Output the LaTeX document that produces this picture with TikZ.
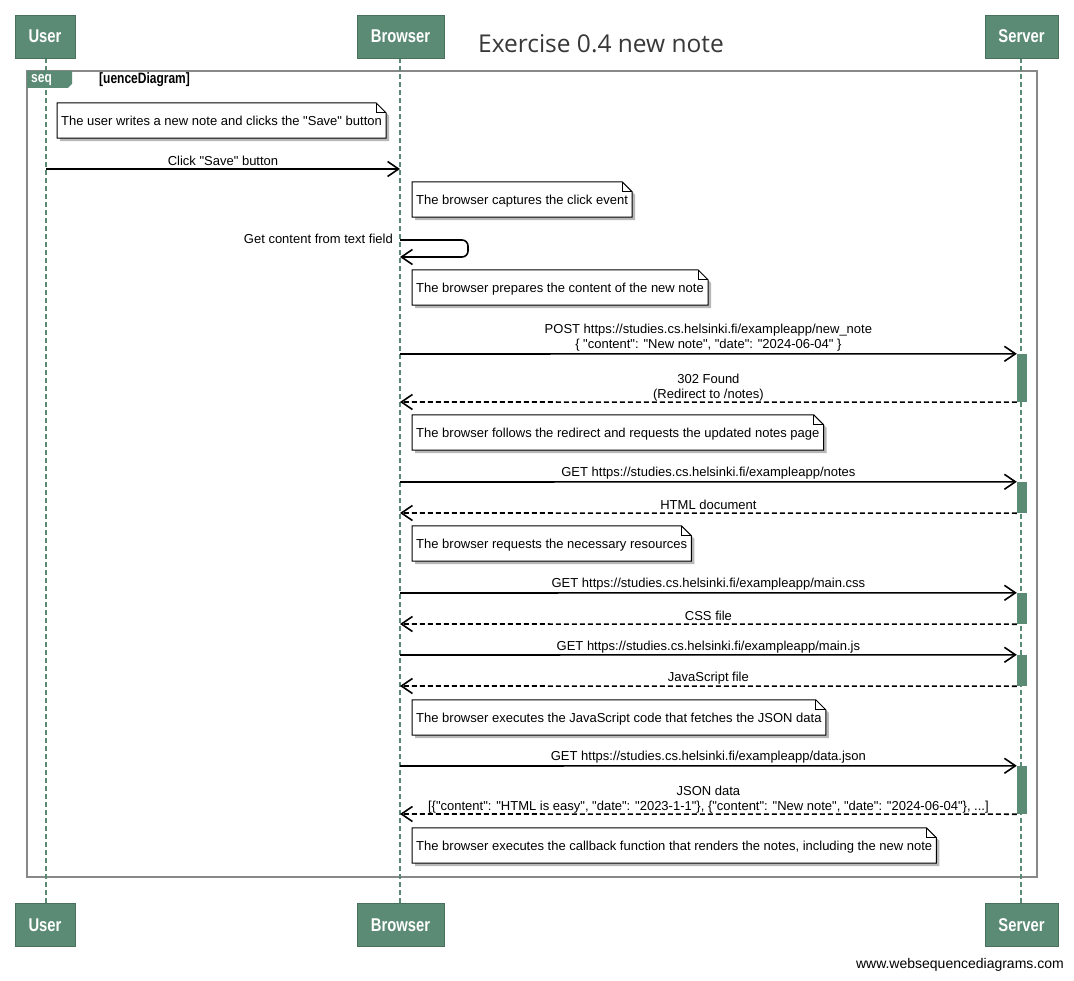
\documentclass[tikz,border=0pt]{standalone}
\usepackage{fontspec}
\newfontfamily\mainf{Liberation Sans}
\newfontfamily\hdrfont[FakeStretch=0.8]{Liberation Sans}
\newfontfamily\titlefont{Open Sans}
\usetikzlibrary{arrows.meta}
\definecolor{wsdgreen}{HTML}{5B8B74}
\definecolor{framegray}{HTML}{888888}
\definecolor{titlegray}{HTML}{383838}
\pgfdeclarelayer{background}
\pgfsetlayers{background,main}
\newcommand\notedraw[1]{%
  \fill[black!28] ([shift={(3,3)}]#1.north west) -- ([shift={(-7,3)}]#1.north east) -- ([shift={(3,13)}]#1.north east) -- ([shift={(3,3)}]#1.south east) -- ([shift={(3,3)}]#1.south west) -- cycle;
  \draw[fill=white, line width=1pt] (#1.north west) -- ([shift={(-10,0)}]#1.north east) -- ([shift={(0,10)}]#1.north east) -- (#1.south east) -- (#1.south west) -- cycle;
  \draw[line width=0.8pt] ([shift={(-10,0)}]#1.north east) -- ([shift={(-10,10)}]#1.north east) -- ([shift={(0,10)}]#1.north east);
}
\begin{document}
\begin{tikzpicture}[x=1pt,y=-1pt,
  actor/.style={fill=wsdgreen, draw=wsdgreen!80!black, line width=0.5pt, text=white, font=\hdrfont\bfseries\fontsize{18.5}{20}\selectfont, minimum height=43pt, inner sep=0pt},
  lifeline/.style={draw=wsdgreen, line width=2.4pt, dash pattern=on 5pt off 3pt},
  notebox/.style={anchor=west, minimum height=35pt, inner xsep=4pt, inner ysep=0pt, text height=10.5pt, text depth=0.5pt, font=\mainf\fontsize{13}{15}\selectfont, text=black},
  msg/.style={draw=black, line width=1.6pt, -{Straight Barb[length=11pt,width=15pt,line width=1.6pt]}},
  reply/.style={msg, dash pattern=on 5pt off 3pt},
  lbl/.style={font=\mainf\fontsize{13}{15}\selectfont, align=center, inner sep=2pt, text=black},
  act/.style={fill=wsdgreen, minimum width=10pt, inner sep=0pt}]
\useasboundingbox (0,0) rectangle (1074,981);
\begin{pgfonlayer}{background}
\fill[white] (0,0) rectangle (1074,981);
\end{pgfonlayer}

% title
\node[font=\titlefont\fontsize{24.5}{28}\selectfont, text=titlegray] (title) at (601,44) {Exercise 0.4 new note};

% actors
\node[actor, minimum width=60pt] (userT) at (45,36.5) {User};
\node[actor, minimum width=87pt] (browserT) at (400.5,36.5) {Browser};
\node[actor, minimum width=73pt] (serverT) at (1021.5,36.5) {Server};
\node[actor, minimum width=60pt] (userB) at (45,925) {User};
\node[actor, minimum width=87pt] (browserB) at (400.5,925) {Browser};
\node[actor, minimum width=73pt] (serverB) at (1021.5,925) {Server};

% frame
\begin{pgfonlayer}{background}
\draw[framegray, line width=2pt] (27,71) rectangle (1037,877);
\fill[wsdgreen] (27,71) -- (72,71) -- (72,84) -- (68,88) -- (27,88) -- cycle;
\end{pgfonlayer}
\node[font=\hdrfont\bfseries\fontsize{15}{17}\selectfont, text=white, anchor=west, inner sep=0pt] (seqlbl) at (31,80) {seq};
\node[font=\hdrfont\bfseries\fontsize{15}{17}\selectfont, text=black, anchor=west, inner sep=0pt] (seqname) at (99,80) {[uenceDiagram]};

% lifelines
\begin{pgfonlayer}{background}
\draw[lifeline] (userT.south -| 46,0) -- (userB.north -| 46,0);
\draw[lifeline] (browserT.south -| 400,0) -- (browserB.north -| 400,0);
\draw[lifeline] (serverT.south -| 1021,0) -- (serverB.north -| 1021,0);
\end{pgfonlayer}

% notes
\node[notebox] (n1) at (57,120.5) {The user writes a new note and clicks the "Save" button};
\node[notebox] (n2) at (412,199.5) {The browser captures the click event};
\node[notebox] (n3) at (412,287.5) {The browser prepares the content of the new note};
\node[notebox] (n4) at (412,432.5) {The browser follows the redirect and requests the updated notes page};
\node[notebox] (n5) at (412,543.5) {The browser requests the necessary resources};
\node[notebox] (n6) at (412,717.5) {The browser executes the JavaScript code that fetches the JSON data};
\node[notebox] (n7) at (412,845.5) {The browser executes the callback function that renders the notes, including the new note};
\begin{pgfonlayer}{background}
\notedraw{n1}\notedraw{n2}\notedraw{n3}\notedraw{n4}\notedraw{n5}\notedraw{n6}\notedraw{n7}
\end{pgfonlayer}

% activation bars
\node[act, minimum height=48pt] (a1) at (1022,378) {};
\node[act, minimum height=31pt] (a2) at (1022,497.5) {};
\node[act, minimum height=31pt] (a3) at (1022,608.5) {};
\node[act, minimum height=31pt] (a4) at (1022,670.5) {};
\node[act, minimum height=48pt] (a5) at (1022,790) {};

% lifeline points
\coordinate (u1) at (46,169);
\coordinate (b1) at (400,169);
\coordinate (s1) at (400,240);
\coordinate (s2) at (400,257);
\coordinate (b2) at (400,354);
\coordinate (b3) at (400,402);
\coordinate (b4) at (400,482);
\coordinate (b5) at (400,513);
\coordinate (b6) at (400,593);
\coordinate (b7) at (400,624);
\coordinate (b8) at (400,655);
\coordinate (b9) at (400,686);
\coordinate (b10) at (400,766);
\coordinate (b11) at (400,814);

% messages
\draw[msg] (u1) -- node[lbl, above, inner sep=3pt] {Click "Save" button} (b1);
\draw[msg, rounded corners=6pt] (s1) -- ++(68,0) |- (s2);
\node[lbl, anchor=east] (selflbl) at ([shift={(-5,-1)}]s1) {Get content from text field};
\draw[msg] (b2) -- node[lbl, above] {POST https://studies.cs.helsinki.fi/exampleapp/new\_note\\\{ "content": "New note", "date": "2024-06-04" \}} (a1.north west);
\draw[reply] (a1.south west) -- node[lbl, above, inner sep=0pt] {302 Found\\(Redirect to /notes)} (b3);
\draw[msg] (b4) -- node[lbl, above] {GET https://studies.cs.helsinki.fi/exampleapp/notes} (a2.north west);
\draw[reply] (a2.south west) -- node[lbl, above, inner sep=2.5pt] {HTML document} (b5);
\draw[msg] (b6) -- node[lbl, above] {GET https://studies.cs.helsinki.fi/exampleapp/main.css} (a3.north west);
\draw[reply] (a3.south west) -- node[lbl, above, inner sep=2.5pt] {CSS file} (b7);
\draw[msg] (b8) -- node[lbl, above, inner sep=0.5pt] {GET https://studies.cs.helsinki.fi/exampleapp/main.js} (a4.north west);
\draw[reply] (a4.south west) -- node[lbl, above, inner sep=1.5pt] {JavaScript file} (b9);
\draw[msg] (b10) -- node[lbl, above] {GET https://studies.cs.helsinki.fi/exampleapp/data.json} (a5.north west);
\draw[reply] (a5.south west) -- node[lbl, above, inner sep=0pt] {JSON data\\{}[\{"content": "HTML is easy", "date": "2023-1-1"\}, \{"content": "New note", "date": "2024-06-04"\}, ...]} (b11);

% footer
\node[font=\mainf\fontsize{14}{16}\selectfont, anchor=east, inner sep=0pt] (footer) at (1064,965) {www.websequencediagrams.com};
\end{tikzpicture}
\end{document}
